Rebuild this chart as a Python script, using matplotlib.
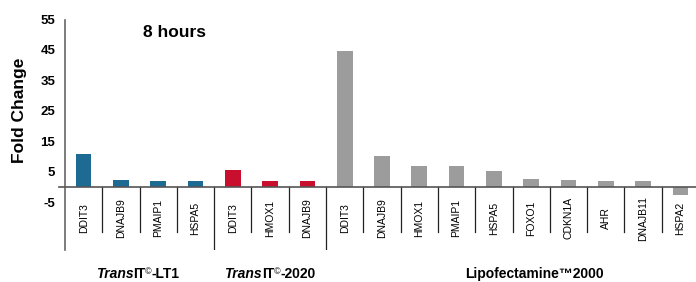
import matplotlib.pyplot as plt
from matplotlib.offsetbox import TextArea, HPacker, AnnotationBbox

# Data
genes = ['DDIT3', 'DNAJB9', 'PMAIP1', 'HSPA5',
         'DDIT3', 'HMOX1', 'DNAJB9',
         'DDIT3', 'DNAJB9', 'HMOX1', 'PMAIP1', 'HSPA5', 'FOXO1', 'CDKN1A', 'AHR', 'DNAJB11', 'HSPA2']
fold_change = [10.9, 2.3, 2.1, 1.8,
               5.6, 2.0, 2.0,
               44.7, 10.2, 7.0, 7.0, 5.2, 2.5, 2.2, 1.9, 1.9, -2.7]
groups = ['LT1', 'LT1', 'LT1', 'LT1',
          '2020', '2020', '2020',
          'Lipo', 'Lipo', 'Lipo', 'Lipo', 'Lipo', 'Lipo', 'Lipo', 'Lipo', 'Lipo', 'Lipo']
group_colors = {'LT1': '#1d6a93', '2020': '#c8102e', 'Lipo': '#9c9c9c'}
yticks = [55, 45, 35, 25, 15, 5, -5]

font = 'Liberation Sans'

fig = plt.figure(figsize=(6.96, 2.82), dpi=100)
# axes: left edge x=65px, right edge ~699px, top y=19.5px, bottom y=250px
ax = fig.add_axes([65 / 696, (282 - 250) / 282, (699 - 65) / 696, (250 - 19.5) / 282])

x = list(range(len(genes)))
ax.bar(x, fold_change, width=0.42, color=[group_colors[g] for g in groups], zorder=2)

ax.set_xlim(-0.5, len(genes) - 0.5)
ax.set_ylim(-20.7, 55)
ax.axhline(0, color='#555555', lw=1.2, zorder=3, xmin=-0.01, clip_on=False)

for s in ['top', 'right', 'bottom']:
    ax.spines[s].set_visible(False)
ax.spines['left'].set_color('#666666')
ax.spines['left'].set_linewidth(1.2)

ax.set_xticks([])
ax.set_yticks(yticks)
ax.set_yticklabels([str(v) for v in yticks], fontfamily=font, fontweight='bold', fontsize=9.5)
ax.tick_params(axis='y', length=0, pad=7)
ax.set_ylabel('Fold Change', fontfamily=font, fontweight='bold', fontsize=12.5)
ax.yaxis.set_label_coords(-0.060, 0.607)

# category separators
for i in range(len(genes) - 1):
    bottom = -20.7 if groups[i] != groups[i + 1] else -14.8
    ax.plot([i + 0.5, i + 0.5], [0, bottom], color='#222222', lw=0.9, zorder=1)

# gene labels
for i, g in enumerate(genes):
    ax.text(i, -10.3, g, rotation=90, ha='center', va='center', fontsize=7.5, fontfamily=font)


def group_label(xpos, suffix):
    big = dict(fontsize=10, fontweight='bold', fontfamily=font)
    parts = [TextArea('Trans', textprops=dict(big, fontstyle='italic')),
             TextArea('IT', textprops=big),
             TextArea('\u00a9', textprops=dict(fontsize=6.5, fontfamily=font)),
             TextArea(suffix, textprops=big)]
    box = HPacker(children=parts, align='top', pad=0, sep=0)
    ab = AnnotationBbox(box, (xpos, -28.7), xycoords='data', frameon=False,
                        box_alignment=(0.5, 0.5), annotation_clip=False)
    ax.add_artist(ab)


group_label(1.45, '-LT1')
group_label(5.0, '-2020')
ax.text(12.1, -28.7, 'Lipofectamine\u21222000', ha='center', va='center',
        fontsize=10, fontweight='bold', fontfamily=font, clip_on=False)

ax.text(2.43, 50.6, '8 hours', ha='center', va='center', fontsize=12.5, fontweight='bold', fontfamily=font)

fig.savefig('out.png', dpi=100)
